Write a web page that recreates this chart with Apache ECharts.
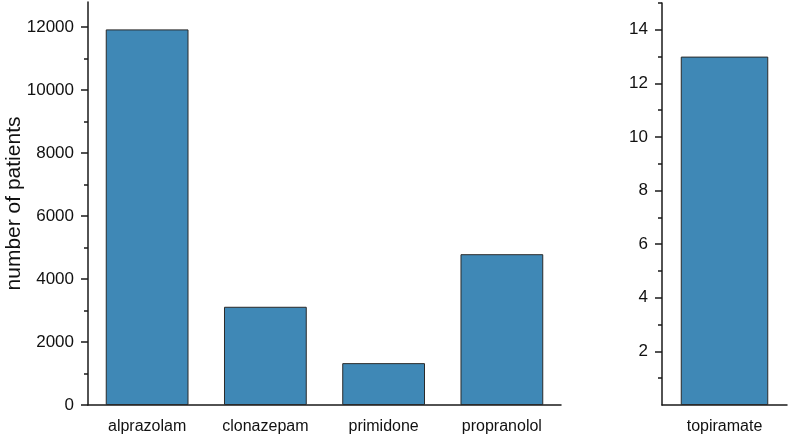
<!DOCTYPE html>
<html>
<head>
<meta charset="utf-8">
<script src="https://cdn.jsdelivr.net/npm/echarts@6/dist/echarts.min.js"></script>
<style>html,body{margin:0;padding:0;background:#fff}#c{width:790px;height:438px}</style>
</head>
<body>
<div id="c"></div>
<script>
const leftCategories = ['alprazolam', 'clonazepam', 'primidone', 'propranolol'];
const leftValues = [11930, 3120, 1330, 4790];
const rightCategories = ['topiramate'];
const rightValues = [13];
const leftMajorTicks = [0, 2000, 4000, 6000, 8000, 10000, 12000];
const leftMinorTicks = [1000, 3000, 5000, 7000, 9000, 11000];
const rightMajorTicks = [2, 4, 6, 8, 10, 12, 14];
const rightMinorTicks = [1, 3, 5, 7, 9, 11, 13, 15];
const yTitle = 'number of patients';

const FONT = 'Liberation Sans, Arial, sans-serif';
const AX = '#1a1a1a';
const BAR = '#3f88b6';

const chart = echarts.init(document.getElementById('c'), null, {renderer: 'canvas'});

function xMain(gridIndex, data) {
  return {
    type: 'category', gridIndex, data, position: 'bottom',
    axisLine: {lineStyle: {color: AX, width: 1.5}},
    axisTick: {alignWithLabel: true, length: 7, lineStyle: {color: AX, width: 1.5}},
    axisLabel: {color: '#111', fontSize: 16, fontFamily: FONT, margin: 14},
    splitLine: {show: false}
  };
}
function xBound(gridIndex, data) {
  return {
    type: 'category', gridIndex, data, position: 'bottom',
    axisLine: {show: false},
    axisTick: {alignWithLabel: false, length: 4, lineStyle: {color: AX, width: 1.5}},
    axisLabel: {show: false},
    splitLine: {show: false}
  };
}
const plain = v => String(v);

chart.setOption({
  animation: false,
  backgroundColor: '#fff',
  grid: [
    {left: 88, top: 2, width: 473, bottom: 33, outerBoundsMode: 'none', containLabel: false},
    {left: 662, top: 3, width: 125, bottom: 33, outerBoundsMode: 'none', containLabel: false}
  ],
  xAxis: [
    xMain(0, leftCategories),
    xMain(1, rightCategories),
    xBound(0, leftCategories),
    xBound(1, rightCategories)
  ],
  yAxis: [
    {
      type: 'value', gridIndex: 0, position: 'left', min: 0, max: 12800, interval: 2000,
      name: yTitle, nameLocation: 'middle', nameGap: 63, nameMoveOverlap: false,
      nameTextStyle: {fontSize: 21, fontFamily: FONT, color: '#111'},
      axisLine: {show: true, lineStyle: {color: AX, width: 1.5}},
      axisTick: {show: true, length: 7, customValues: leftMajorTicks, lineStyle: {color: AX, width: 1.5}},
      axisLabel: {customValues: leftMajorTicks, formatter: plain, fontSize: 17, fontFamily: FONT, color: '#111', margin: 14},
      splitLine: {show: false}
    },
    {
      type: 'value', gridIndex: 1, position: 'left', min: 0, max: 15, interval: 2,
      axisLine: {show: true, lineStyle: {color: AX, width: 1.5}},
      axisTick: {show: true, length: 7, customValues: rightMajorTicks, lineStyle: {color: AX, width: 1.5}},
      axisLabel: {customValues: rightMajorTicks, formatter: plain, fontSize: 17, fontFamily: FONT, color: '#111', margin: 14},
      splitLine: {show: false}
    },
    {
      type: 'value', gridIndex: 0, position: 'left', offset: 0, min: 0, max: 12800, interval: 2000,
      axisLine: {show: false},
      axisTick: {show: true, length: 4, customValues: leftMinorTicks, lineStyle: {color: AX, width: 1.5}},
      axisLabel: {show: false},
      splitLine: {show: false}
    },
    {
      type: 'value', gridIndex: 1, position: 'left', offset: 0, min: 0, max: 15, interval: 2,
      axisLine: {show: false},
      axisTick: {show: true, length: 4, customValues: rightMinorTicks, lineStyle: {color: AX, width: 1.5}},
      axisLabel: {show: false},
      splitLine: {show: false}
    }
  ],
  series: [
    {
      type: 'bar', xAxisIndex: 0, yAxisIndex: 0, data: leftValues,
      barCategoryGap: '30%',
      itemStyle: {color: BAR, borderColor: '#2a2a2a', borderWidth: 1}
    },
    {
      type: 'bar', xAxisIndex: 1, yAxisIndex: 1, data: rightValues,
      barCategoryGap: '30%',
      itemStyle: {color: BAR, borderColor: '#2a2a2a', borderWidth: 1}
    }
  ]
});
</script>
</body>
</html>
